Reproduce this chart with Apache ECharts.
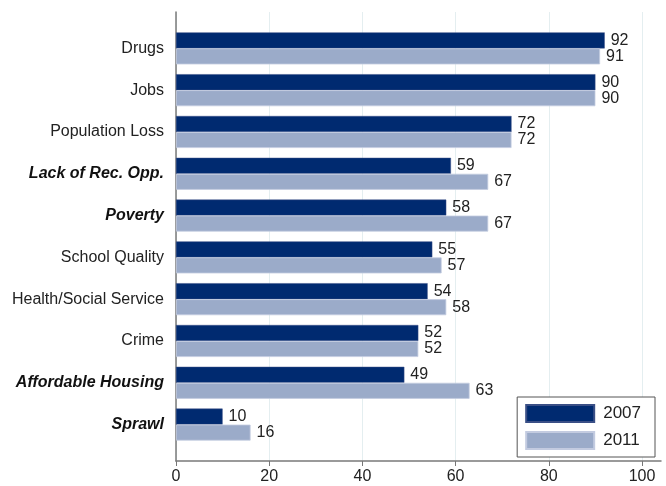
<!DOCTYPE html>
<html>
<head>
<meta charset="utf-8">
<script src="https://cdn.jsdelivr.net/npm/echarts@6/dist/echarts.min.js"></script>
<style>
  html, body { margin: 0; padding: 0; background: #fff; }
  #chart { width: 666px; height: 486px; }
</style>
</head>
<body>
<div id="chart"></div>
<script>
// categories top to bottom
var categories = ['Drugs', 'Jobs', 'Population Loss', 'Lack of Rec. Opp.', 'Poverty',
    'School Quality', 'Health/Social Service', 'Crime', 'Affordable Housing', 'Sprawl'];
var values2007 = [92, 90, 72, 59, 58, 55, 54, 52, 49, 10];
var values2011 = [91, 90, 72, 67, 67, 57, 58, 52, 63, 16];
var boldItalic = ['Lack of Rec. Opp.', 'Poverty', 'Affordable Housing', 'Sprawl'];
var xTicks = [0, 20, 40, 60, 80, 100];

var FONT = 'Liberation Sans';
var DARK = '#002a70';
var LIGHT = '#9babc9';

var myChart = echarts.init(document.getElementById('chart'));

var option = {
    backgroundColor: '#fff',
    animation: false,
    textStyle: { fontFamily: FONT },
    grid: [
        // tick/gridline frame
        { left: 176, right: 24, top: 12, bottom: 25 },
        // axis lines (x line runs a bit past 100)
        { left: 176, right: 5, top: 12, bottom: 25 },
        // bars
        { left: 176, right: 24, top: 27.5, bottom: 40.5 }
    ],
    legend: {
        orient: 'vertical',
        right: 11,
        top: 397,
        itemWidth: 68,
        itemHeight: 17,
        itemGap: 8,
        padding: [7, 14, 7, 8],
        backgroundColor: '#fff',
        borderColor: '#555',
        borderWidth: 1,
        borderRadius: 0,
        icon: 'rect',
        textStyle: { fontFamily: FONT, fontSize: 17, color: '#222', padding: [0, 0, 0, 4] },
        data: ['2007', '2011']
    },
    xAxis: [{
        gridIndex: 0,
        type: 'value',
        min: 0,
        max: 100,
        interval: 20,
        axisLine: { show: false },
        axisTick: { show: true, length: 5, lineStyle: { color: '#777' } },
        axisLabel: {
            fontFamily: FONT, fontSize: 16, color: '#222', margin: 8,
            formatter: function (v) { return xTicks.indexOf(v) >= 0 ? String(v) : ''; }
        },
        splitLine: { show: true, lineStyle: { color: '#e4eef0', width: 1 } }
    }, {
        gridIndex: 1,
        type: 'value',
        min: 0,
        max: 100,
        axisLine: { show: true, lineStyle: { color: '#7a7a7a', width: 1.5 } },
        axisTick: { show: false },
        axisLabel: { show: false },
        splitLine: { show: false }
    }, {
        gridIndex: 2,
        type: 'value',
        min: 0,
        max: 100,
        show: false
    }],
    yAxis: [{
        gridIndex: 0,
        type: 'value',
        show: false
    }, {
        gridIndex: 1,
        type: 'value',
        axisLine: { show: true, lineStyle: { color: '#7a7a7a', width: 1.5 } },
        axisTick: { show: false },
        axisLabel: { show: false },
        splitLine: { show: false }
    }, {
        gridIndex: 2,
        type: 'category',
        inverse: true,
        data: categories,
        axisLine: { show: false },
        axisTick: { show: false },
        axisLabel: {
            margin: 12,
            fontFamily: FONT,
            fontSize: 16,
            color: '#222',
            formatter: function (v) {
                return boldItalic.indexOf(v) >= 0 ? '{b|' + v + '}' : v;
            },
            rich: {
                b: { fontFamily: FONT, fontSize: 16, fontWeight: 'bold', fontStyle: 'italic', color: '#111' }
            }
        }
    }],
    series: [{
        name: '2007',
        type: 'bar',
        xAxisIndex: 2,
        yAxisIndex: 2,
        data: values2007,
        barWidth: 16,
        barGap: '0%',
        itemStyle: { color: DARK, borderColor: '#3a4f86', borderWidth: 0.5 },
        label: {
            show: true, position: 'right', distance: 6,
            fontFamily: FONT, fontSize: 16, color: '#222'
        }
    }, {
        name: '2011',
        type: 'bar',
        xAxisIndex: 2,
        yAxisIndex: 2,
        data: values2011,
        barWidth: 16,
        barGap: '0%',
        itemStyle: { color: LIGHT, borderColor: '#c3cbe0', borderWidth: 0.8 },
        label: {
            show: true, position: 'right', distance: 6,
            fontFamily: FONT, fontSize: 16, color: '#222'
        }
    }]
};

myChart.setOption(option);
</script>
</body>
</html>
